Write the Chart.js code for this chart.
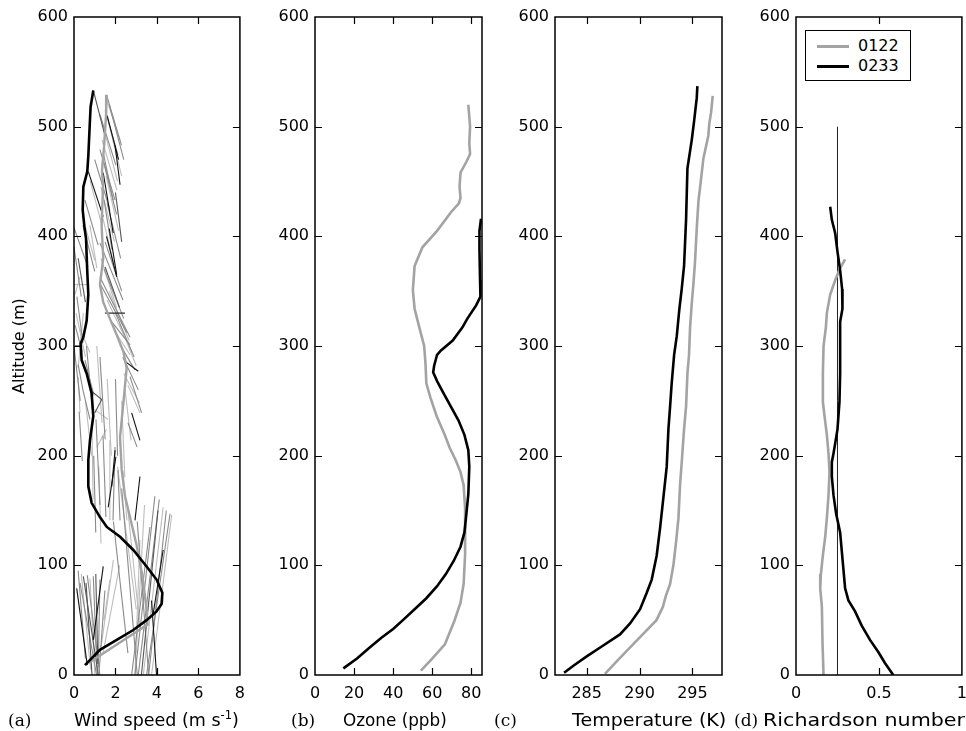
<!DOCTYPE html>
<html>
<head>
<meta charset="utf-8">
<script src="https://cdn.jsdelivr.net/npm/chart.js@4/dist/chart.umd.min.js"></script>
<style>
  html, body { margin: 0; padding: 0; background: #fff; overflow: hidden; }
  body { width: 966px; height: 731px; position: relative; font-family: "DejaVu Sans", sans-serif; color: #000; }
  canvas { position: absolute; top: 0; }
  .lbl { position: absolute; top: 710px; font-size: 17.5px; line-height: 20px; white-space: nowrap; transform-origin: left center; }
  .tag { font-family: "DejaVu Serif", serif; font-size: 17px; }
  .lbl sup { font-size: 11.5px; position: relative; top: -7px; vertical-align: baseline; }
  #ylab { position: absolute; left: 18px; top: 346px; font-size: 16px; white-space: nowrap;
          transform: translate(-50%, -50%) rotate(-90deg); }
  #legend { position: absolute; left: 805px; top: 30px; width: 104px; height: 49px;
            border: 1px solid #000; background: #fff; font-size: 16px; }
  #legend .row { position: absolute; left: 0; height: 20px; width: 100%; }
  #legend .swatch { position: absolute; left: 11px; top: 9px; width: 32px; height: 3px; }
  #legend .txt { position: absolute; left: 52px; top: 0; line-height: 20px; }
</style>
</head>
<body>
<canvas id="cA" width="254" height="731" style="left:0px"></canvas>
<canvas id="cB" width="250" height="731" style="left:250px"></canvas>
<canvas id="cC" width="250" height="731" style="left:490px"></canvas>
<canvas id="cD" width="246" height="731" style="left:730px"></canvas>

<div id="ylab">Altitude (m)</div>
<div class="lbl tag" style="left:8px">(a)</div>
<div class="lbl" style="left:74px">Wind speed (m s<sup>-1</sup>)</div>
<div class="lbl tag" style="left:291px">(b)</div>
<div class="lbl" style="left:343px; transform:scaleX(0.96)">Ozone (ppb)</div>
<div class="lbl tag" style="left:494px">(c)</div>
<div class="lbl" style="left:572px; transform:scaleX(1.09)">Temperature (K)</div>
<div class="lbl tag" style="left:734px">(d)</div>
<div class="lbl" style="left:763px; transform:scaleX(1.18)">Richardson number</div>
<div id="legend"></div>

<script>
// series names
const seriesNames = ["0122", "0233"];

// (a) wind speed profiles (m/s) vs altitude (m)
const windAlt0122 = [529, 512, 482, 460, 445, 410, 380, 356, 340, 325, 310, 295, 280, 248, 217, 187, 163, 144, 120, 90, 60, 46, 30, 11];
const wind0122 = [1.57, 1.55, 1.45, 1.35, 1.40, 1.33, 1.41, 1.25, 1.41, 1.73, 2.06, 2.38, 2.54, 2.38, 2.22, 2.30, 2.46, 2.70, 3.00, 3.30, 3.50, 3.55, 2.25, 0.70];
const windAlt0233 = [533, 518, 494, 473, 459, 445, 424, 409, 398, 368, 347, 323, 308, 302, 287, 275, 257, 236, 214, 196, 172, 157, 144, 135, 126, 114, 99, 87, 75, 65, 58, 50, 41, 32, 23, 9];
const wind0233 = [0.93, 0.80, 0.74, 0.69, 0.64, 0.45, 0.42, 0.50, 0.58, 0.64, 0.69, 0.61, 0.45, 0.32, 0.37, 0.61, 0.85, 0.93, 0.77, 0.69, 0.69, 0.85, 1.25, 1.58, 2.22, 2.86, 3.50, 3.98, 4.26, 4.23, 3.98, 3.50, 2.86, 2.06, 1.25, 0.53];

// wind vector sticks: [speed1, alt1, speed2, alt2]
const sticksBlack = [
  [1.98, 483, 2.22, 447], [0.69, 459, 1.41, 418], [1.41, 458, 1.89, 403], [1.57, 400, 2.06, 363],
  [1.49, 330, 2.46, 330], [1.70, 407, 2.06, 365], [2.46, 286, 3.10, 277], [0.05, 300, 0.39, 300],
  [2.78, 239, 3.18, 214], [1.98, 205, 1.82, 172], [1.60, 510, 2.15, 470],
  [2.02, 199, 1.65, 153], [3.18, 181, 2.94, 141], [0.13, 79, 0.64, 9], [1.41, 99, 0.93, 32],
  [3.98, 0, 3.74, 68], [4.30, 114, 3.82, 56]
];
const sticksDark = [
  [0.93, 533, 1.49, 492], [0.45, 90, 1.17, 0], [0.58, 84, 0.87, 0], [2.00, 440, 2.30, 395],
  [0.20, 380, 0.55, 340], [4.05, 150, 3.25, 0], [0.77, 260, 1.35, 251], [1.33, 251, 1.00, 239],
  [1.50, 372, 2.20, 335], [1.05, 92, 1.15, 10]
];
const sticksMid = [
  [1.57, 529, 2.29, 483], [1.50, 515, 2.12, 474], [1.25, 511, 2.02, 465], [1.25, 479, 1.98, 433],
  [1.00, 470, 1.73, 424], [0.53, 433, 1.16, 392], [1.45, 433, 1.83, 388], [1.25, 394, 2.36, 342],
  [0.00, 408, 0.67, 372], [1.25, 363, 2.70, 308], [1.25, 357, 2.55, 312], [0.14, 345, 0.43, 303],
  [0.43, 410, 1.00, 368], [1.82, 322, 2.70, 301], [2.22, 301, 2.94, 278], [0.05, 319, 0.39, 295],
  [2.70, 272, 3.26, 239], [2.60, 230, 3.04, 208], [0.43, 260, 0.77, 233], [1.40, 218, 1.54, 144],
  [1.98, 208, 1.88, 141], [2.12, 187, 2.22, 141], [1.06, 233, 1.25, 155], [0.53, 287, 0.96, 255],
  [0.20, 283, 0.43, 260], [0.29, 84, 1.09, 0], [0.64, 91, 1.25, 0], [0.93, 90, 1.12, 0],
  [1.25, 87, 1.17, 7], [1.49, 77, 1.20, 0], [3.90, 163, 2.94, 0], [4.11, 160, 3.10, 0],
  [4.63, 147, 3.50, 0], [3.66, 135, 2.78, 0], [2.30, 170, 3.05, 0], [1.41, 476, 1.89, 433],
  [1.70, 520, 2.40, 470], [1.40, 470, 2.05, 420], [1.60, 430, 2.25, 380], [1.50, 395, 2.30, 350],
  [1.45, 370, 2.40, 325], [2.00, 330, 2.90, 290], [2.35, 290, 3.10, 260], [0.00, 390, 0.35, 345],
  [0.00, 300, 0.30, 250], [0.60, 300, 0.90, 240], [0.25, 240, 0.40, 195], [1.25, 290, 1.50, 215],
  [2.00, 270, 2.10, 200], [0.95, 200, 1.05, 130], [0.20, 95, 0.55, 15], [1.90, 140, 2.60, 20],
  [3.05, 140, 3.60, 0], [4.45, 150, 3.60, 0]
];
const sticksLight = [
  [1.59, 524, 2.22, 488], [1.35, 488, 2.07, 442], [0.77, 451, 1.35, 410], [0.39, 419, 1.00, 378],
  [0.00, 356, 0.63, 356], [0.29, 363, 0.05, 347], [1.59, 342, 2.80, 294], [0.29, 315, 0.77, 294],
  [0.77, 410, 1.10, 371], [1.98, 313, 2.70, 292], [2.60, 264, 3.18, 239], [0.20, 272, 0.29, 239],
  [1.00, 242, 1.64, 233], [1.57, 224, 1.10, 208], [1.73, 214, 1.73, 141], [2.36, 187, 2.55, 141],
  [0.87, 224, 0.92, 160], [2.46, 260, 2.75, 214], [0.77, 88, 1.01, 0], [1.73, 87, 1.45, 50],
  [4.30, 153, 3.34, 0], [4.71, 146, 3.74, 0], [3.18, 123, 2.94, 0], [2.10, 190, 3.00, 60],
  [2.20, 100, 1.40, 20], [1.90, 105, 1.30, 25], [1.65, 505, 2.30, 455], [1.45, 497, 2.10, 450],
  [1.55, 455, 2.15, 405], [1.30, 445, 1.95, 395], [1.35, 420, 1.95, 372], [1.30, 380, 2.05, 335],
  [1.70, 350, 2.65, 305], [2.20, 320, 3.00, 282], [2.40, 275, 3.15, 248], [0.10, 330, 0.55, 290],
  [0.45, 330, 0.20, 280], [0.55, 250, 0.85, 200], [1.10, 300, 1.35, 230], [1.60, 270, 1.80, 200],
  [2.30, 250, 2.45, 180], [1.20, 190, 1.30, 120], [0.35, 92, 0.80, 5], [2.60, 150, 3.20, 40],
  [3.40, 155, 3.00, 20]
];

// (b) ozone (ppb)
const ozoneAlt0122 = [520, 500, 485, 475, 468, 458, 445, 435, 430, 422, 405, 390, 373, 351, 334, 317, 300, 283, 266, 253, 236, 219, 207, 196, 185, 173, 150, 134, 110, 83, 66, 49, 28, 15, 4];
const ozone0122 = [78.5, 79.4, 79.0, 79.4, 77.5, 74.5, 74.0, 74.5, 73.7, 69.6, 62.5, 55.0, 51.0, 50.1, 51.0, 53.4, 55.9, 56.6, 57.0, 59.1, 62.3, 66.4, 69.0, 72.0, 74.5, 76.1, 76.9, 76.9, 76.8, 76.1, 74.5, 71.3, 66.5, 60.0, 54.2];
const ozoneAlt0233 = [416, 405, 388, 360, 345, 337, 325, 317, 305, 296, 292, 282, 276, 268, 258, 245, 232, 219, 205, 190, 165, 147, 130, 117, 104, 92, 81, 70, 60, 50, 42, 34, 25, 15, 6];
const ozone0233 = [85, 84.2, 84.2, 84.5, 84.7, 82.5, 78, 75.5, 70.5, 64.5, 62.5, 61, 60.5, 62.5, 65.5, 69.5, 73.5, 76.5, 78.5, 79, 78.5, 77.5, 76.5, 74.5, 71, 67, 62.5, 57, 51, 45, 40, 34, 28, 21.5, 14.5];

// (c) temperature (K)
const tempAlt0122 = [528, 513, 503, 492, 471, 445, 432, 407, 377, 356, 339, 317, 292, 275, 245, 224, 194, 173, 143, 121, 100, 83, 72, 62, 50, 34, 21, 11, 1];
const temp0122 = [296.92, 296.77, 296.6, 296.51, 296.04, 295.73, 295.57, 295.41, 295.25, 295.09, 294.94, 294.78, 294.68, 294.53, 294.40, 294.21, 293.99, 293.83, 293.68, 293.45, 293.20, 292.89, 292.48, 292.2, 291.6, 290.0, 288.7, 287.7, 286.73];
const tempAlt0233 = [537, 526, 505, 488, 462, 415, 373, 352, 334, 309, 292, 266, 245, 224, 190, 156, 134, 109, 87, 75, 60, 47, 37, 26, 17, 8.5, 2];
const temp0233 = [295.47, 295.41, 295.16, 294.94, 294.53, 294.40, 294.21, 293.99, 293.77, 293.52, 293.27, 293.04, 292.89, 292.73, 292.57, 292.19, 291.94, 291.62, 291.15, 290.68, 290.05, 289.10, 288.15, 286.42, 285.0, 283.74, 282.86];

// (d) Richardson number
const riAlt0122 = [379, 371, 360, 347, 330, 317, 300, 275, 249, 236, 219, 202, 185, 164, 143, 126, 109, 92, 79, 62, 28, 0];
const ri0122 = [0.296, 0.266, 0.236, 0.206, 0.186, 0.18, 0.166, 0.162, 0.162, 0.172, 0.186, 0.196, 0.202, 0.196, 0.186, 0.176, 0.162, 0.15, 0.146, 0.156, 0.16, 0.166];
const riAlt0233 = [427, 415, 403, 386, 369, 352, 334, 322, 300, 275, 249, 224, 211, 202, 194, 181, 164, 147, 130, 113, 96, 79, 68, 58, 45, 32, 21, 11, 0];
const ri0233 = [0.206, 0.216, 0.236, 0.25, 0.266, 0.278, 0.28, 0.266, 0.266, 0.266, 0.262, 0.25, 0.236, 0.226, 0.216, 0.216, 0.226, 0.242, 0.266, 0.276, 0.286, 0.296, 0.316, 0.356, 0.396, 0.446, 0.496, 0.536, 0.586];
const riCritical = [0.25, 0.25];
const riCriticalAlt = [0, 500];

// tick values
const altTicks = [0, 100, 200, 300, 400, 500, 600];
const windTicks = [0, 2, 4, 6, 8];
const ozoneTicks = [0, 20, 40, 60, 80];
const tempTicks = [285, 290, 295];
const riTicks = [0, 0.5, 1];

const GRAY = "#a3a3a3";
const BLACK = "#000";

Chart.defaults.font.family = "'DejaVu Sans', sans-serif";
Chart.defaults.font.size = 16;
Chart.defaults.color = "#000";

// profile line
function series(xs, ys, color, width) {
  return {
    data: xs.map((v, i) => ({ x: v, y: ys[i] })),
    borderColor: color, borderWidth: width,
    showLine: true, pointRadius: 0, fill: false
  };
}

function stickSets(list, color) {
  return list.map(s => series([s[0], s[2]], [s[1], s[3]], color, 1.1));
}

// box around the plot + inward tick marks on all four sides
const frame = {
  id: "frame",
  afterDatasetsDraw(chart) {
    const { ctx, chartArea: a, scales: { x, y } } = chart;
    ctx.save();
    ctx.strokeStyle = "#000";
    ctx.lineWidth = 1.5;
    ctx.strokeRect(a.left, a.top, a.right - a.left, a.bottom - a.top);
    ctx.lineWidth = 1.2;
    ctx.beginPath();
    x.ticks.forEach(t => {
      const p = Math.round(x.getPixelForValue(t.value)) + 0.5;
      if (p > a.left + 3 && p < a.right - 3) {
        ctx.moveTo(p, a.top); ctx.lineTo(p, a.top + 7);
        ctx.moveTo(p, a.bottom); ctx.lineTo(p, a.bottom - 7);
      }
    });
    y.ticks.forEach(t => {
      const p = Math.round(y.getPixelForValue(t.value)) + 0.5;
      if (p > a.top + 3 && p < a.bottom - 3) {
        ctx.moveTo(a.left, p); ctx.lineTo(a.left + 7, p);
        ctx.moveTo(a.right, p); ctx.lineTo(a.right - 7, p);
      }
    });
    ctx.stroke();
    ctx.restore();
  }
};

function panel(id, xMin, xMax, xTicks, yWidth, padRight, datasets) {
  return new Chart(document.getElementById(id), {
    type: "scatter",
    data: { datasets },
    options: {
      responsive: false,
      animation: false,
      events: [],
      layout: { padding: { top: 17, right: padRight, bottom: 16, left: 0 } },
      plugins: { legend: { display: false }, tooltip: { enabled: false } },
      elements: { line: { tension: 0 } },
      scales: {
        x: {
          type: "linear", min: xMin, max: xMax,
          grid: { display: false, drawTicks: false },
          border: { display: false },
          afterBuildTicks: s => { s.ticks = xTicks.map(v => ({ value: v })); },
          afterFit: s => { s.height = 40; },
          ticks: { padding: 9, maxRotation: 0, autoSkip: false, callback: v => String(v) }
        },
        y: {
          type: "linear", min: 0, max: 600,
          grid: { display: false, drawTicks: false },
          border: { display: false },
          afterBuildTicks: s => { s.ticks = altTicks.map(v => ({ value: v })); },
          afterFit: s => { s.width = yWidth; },
          ticks: { padding: 6, callback: v => String(v) }
        }
      }
    },
    plugins: [frame]
  });
}

panel("cA", 0, 8, windTicks, 74, 14, [
  series(wind0233, windAlt0233, BLACK, 2.6),
  series(wind0122, windAlt0122, GRAY, 2.4),
  ...stickSets(sticksBlack, "#111"),
  ...stickSets(sticksDark, "#555"),
  ...stickSets(sticksMid, "#8a8a8a"),
  ...stickSets(sticksLight, "#bdbdbd")
]);

panel("cB", 0, 85.5, ozoneTicks, 65, 18, [
  series(ozone0233, ozoneAlt0233, BLACK, 2.6),
  series(ozone0122, ozoneAlt0122, GRAY, 2.6)
]);

panel("cC", 282, 297.8, tempTicks, 65, 18, [
  series(temp0233, tempAlt0233, BLACK, 2.6),
  series(temp0122, tempAlt0122, GRAY, 2.6)
]);

panel("cD", 0, 1, riTicks, 66, 14, [
  series(ri0233, riAlt0233, BLACK, 2.6),
  series(ri0122, riAlt0122, GRAY, 2.6),
  series(riCritical, riCriticalAlt, "#222", 1)
]);

// legend for panel (d)
const legendColors = [GRAY, BLACK];
document.getElementById("legend").innerHTML = seriesNames.map((name, i) => `
  <div class="row" style="top:${5 + i * 20}px">
    <div class="swatch" style="background:${legendColors[i]}"></div>
    <div class="txt">${name}</div>
  </div>`).join("");
</script>
</body>
</html>
